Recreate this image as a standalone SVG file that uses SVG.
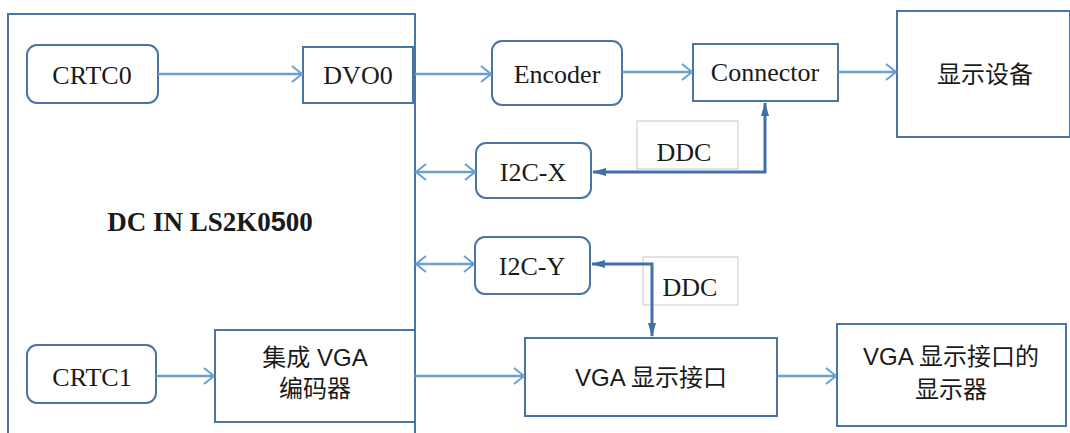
<svg xmlns="http://www.w3.org/2000/svg" width="1070" height="433" viewBox="0 0 1070 433">
<defs>
<style>
.box{fill:#fff;stroke:#4a74a4;stroke-width:2}
.lbl{fill:#fff;stroke:#c8c8c8;stroke-width:1}
.t{font-family:"Liberation Serif",serif;font-size:26px;fill:#1a1a1a;text-anchor:middle}
.c{font-family:"Liberation Sans","Noto Sans CJK SC",sans-serif;font-size:24px;fill:#1a1a1a;text-anchor:middle}
.ln{fill:none;stroke:#6a9fd4;stroke-width:2.5}
.dd{fill:none;stroke:#3f70a8;stroke-width:3}
</style>
<marker id="oa" viewBox="0 0 12 18" refX="11" refY="9" markerWidth="12" markerHeight="18" markerUnits="userSpaceOnUse" orient="auto-start-reverse">
<path d="M1,1 L11,9 L1,17" fill="none" stroke="#6a9fd4" stroke-width="2"/>
</marker>
<marker id="fa" viewBox="0 0 14 10" refX="13" refY="5" markerWidth="14" markerHeight="10" markerUnits="userSpaceOnUse" orient="auto-start-reverse">
<path d="M0,1 L14,5 L0,9 Z" fill="#3f70a8"/>
</marker>
</defs>
<g id="dc"><rect class="box" x="8" y="14" width="407" height="420"/><text x="210" y="231" font-family="Liberation Serif,serif" font-size="27" font-weight="bold" text-anchor="middle" fill="#1a1a1a">DC IN LS2K0<tspan font-family="Liberation Sans,sans-serif">5</tspan>00</text></g>
<g id="crtc0"><rect class="box" x="27" y="45" width="131" height="58" rx="10"/><text class="t" x="92" y="84">CRTC0</text></g>
<g id="dvo0"><rect class="box" x="303" y="47" width="110" height="56"/><text class="t" x="358" y="84">DVO0</text></g>
<g id="encoder"><rect class="box" x="492" y="41" width="130" height="64" rx="10"/><text class="t" x="557" y="83">Encoder</text></g>
<g id="connector"><rect class="box" x="693" y="44" width="145" height="57"/><text class="t" x="765" y="81">Connector</text></g>
<g id="display"><rect class="box" x="897" y="11" width="173" height="126"/><text class="c" x="985" y="83">显示设备</text></g>
<g id="ddc1"><rect class="lbl" x="637" y="121" width="101" height="48"/><text class="t" x="684" y="161">DDC</text></g>
<g id="i2cx"><rect class="box" x="476" y="143" width="115" height="55" rx="10"/><text class="t" x="533" y="181">I2C-X</text></g>
<g id="ddc2"><rect class="lbl" x="643" y="257" width="95" height="48"/><text class="t" x="690" y="296">DDC</text></g>
<g id="i2cy"><rect class="box" x="475" y="237" width="115" height="57" rx="10"/><text class="t" x="532" y="275">I2C-Y</text></g>
<g id="crtc1"><rect class="box" x="27" y="345" width="129" height="58" rx="10"/><text class="t" x="92" y="386">CRTC1</text></g>
<g id="vgaenc"><rect class="box" x="215" y="330" width="200" height="92"/><text class="c" x="315" y="366">集成 VGA</text><text class="c" x="315" y="397">编码器</text></g>
<g id="vgaif"><rect class="box" x="525" y="338" width="252" height="78"/><text class="c" x="651" y="386">VGA 显示接口</text></g>
<g id="vgamon"><rect class="box" x="837" y="324" width="229" height="102"/><text class="c" x="951" y="365">VGA 显示接口的</text><text class="c" x="951" y="398">显示器</text></g>
<g id="connectors">
<line class="ln" x1="158" y1="74" x2="302" y2="74" marker-end="url(#oa)"/>
<line class="ln" x1="415" y1="74" x2="491" y2="74" marker-end="url(#oa)"/>
<line class="ln" x1="622" y1="72" x2="692" y2="72" marker-end="url(#oa)"/>
<line class="ln" x1="838" y1="72" x2="896" y2="72" marker-end="url(#oa)"/>
<line class="ln" x1="416" y1="172" x2="475" y2="172" marker-start="url(#oa)" marker-end="url(#oa)"/>
<line class="ln" x1="416" y1="264" x2="474" y2="264" marker-start="url(#oa)" marker-end="url(#oa)"/>
<line class="ln" x1="156" y1="376" x2="214" y2="376" marker-end="url(#oa)"/>
<line class="ln" x1="415" y1="376" x2="524" y2="376" marker-end="url(#oa)"/>
<line class="ln" x1="777" y1="376" x2="836" y2="376" marker-end="url(#oa)"/>
<polyline class="dd" points="593,172 765,172 765,103" marker-start="url(#fa)" marker-end="url(#fa)"/>
<polyline class="dd" stroke-width="2.5" points="592,264 652,264 652,336" marker-start="url(#fa)" marker-end="url(#fa)"/>
</g>
</svg>
